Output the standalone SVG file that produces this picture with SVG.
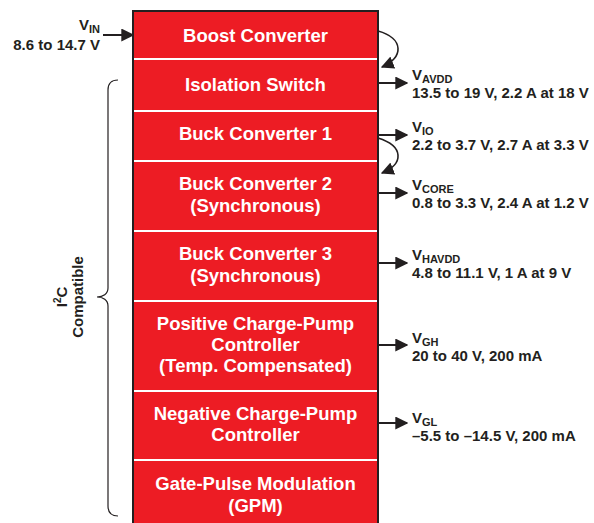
<svg xmlns="http://www.w3.org/2000/svg" width="594" height="523" viewBox="0 0 594 523">
<defs>
<marker id="ah2" viewBox="0 0 10 10" refX="9" refY="5" markerWidth="13" markerHeight="13" markerUnits="userSpaceOnUse" orient="auto"><path d="M0,0 L10,5 L0,10 Z" fill="#231f20"/></marker>
<style>
.blk{fill:#ed1c24;stroke:#231f20;stroke-width:2}
.sep{stroke:#ffffff;stroke-width:2}
.bt{font-family:"Liberation Sans",Arial,sans-serif;font-weight:bold;font-size:18.5px;fill:#ffffff;text-anchor:middle}
.lb{font-family:"Liberation Sans",Arial,sans-serif;font-weight:bold;font-size:15px;fill:#231f20}
.sub{font-size:11px}
.ar{stroke:#231f20;stroke-width:2;fill:none;marker-end:url(#ah2)}
.cv{stroke:#231f20;stroke-width:1.6;fill:none;marker-end:url(#ah2)}
</style>
</defs>
<rect x="0" y="0" width="594" height="523" fill="#ffffff"/>
<g id="block">
<rect class="blk" x="133" y="11" width="245" height="520"/>
<line class="sep" x1="134" y1="59" x2="377" y2="59"/>
<line class="sep" x1="134" y1="111" x2="377" y2="111"/>
<line class="sep" x1="134" y1="161" x2="377" y2="161"/>
<line class="sep" x1="134" y1="231" x2="377" y2="231"/>
<line class="sep" x1="134" y1="301" x2="377" y2="301"/>
<line class="sep" x1="134" y1="391" x2="377" y2="391"/>
<line class="sep" x1="134" y1="460" x2="377" y2="460"/>
</g>
<g id="boost"><text class="bt" x="255.5" y="42">Boost Converter</text></g>
<g id="isolation"><text class="bt" x="255.5" y="91">Isolation Switch</text></g>
<g id="buck1"><text class="bt" x="255.5" y="140">Buck Converter 1</text></g>
<g id="buck2"><text class="bt" x="255.5" y="190">Buck Converter 2</text><text class="bt" x="255.5" y="212">(Synchronous)</text></g>
<g id="buck3"><text class="bt" x="255.5" y="260">Buck Converter 3</text><text class="bt" x="255.5" y="282">(Synchronous)</text></g>
<g id="poscp"><text class="bt" x="255.5" y="330">Positive Charge-Pump</text><text class="bt" x="255.5" y="351">Controller</text><text class="bt" x="255.5" y="372">(Temp. Compensated)</text></g>
<g id="negcp"><text class="bt" x="255.5" y="420">Negative Charge-Pump</text><text class="bt" x="255.5" y="441">Controller</text></g>
<g id="gpm"><text class="bt" x="255.5" y="490">Gate-Pulse Modulation</text><text class="bt" x="255.5" y="512">(GPM)</text></g>

<g id="connectors">
<line class="ar" x1="103" y1="35" x2="133" y2="35"/>
<path class="cv" d="M378,31 C404,38 404,58 382,67"/>
<line class="ar" x1="378" y1="83" x2="407" y2="83"/>
<line class="ar" x1="378" y1="135" x2="407" y2="135"/>
<path class="cv" d="M378,138 C404,146 404,164 382,173"/>
<line class="ar" x1="378" y1="193" x2="407" y2="193"/>
<line class="ar" x1="378" y1="263" x2="407" y2="263"/>
<line class="ar" x1="378" y1="345" x2="407" y2="345"/>
<line class="ar" x1="378" y1="423" x2="407" y2="423"/>
</g>

<g id="vin"><text class="lb" x="100" y="30" text-anchor="end">V<tspan class="sub" dy="3">IN</tspan></text><text class="lb" x="100" y="50" text-anchor="end">8.6 to 14.7 V</text></g>
<g id="vavdd"><text class="lb" x="412" y="80">V<tspan class="sub" dy="3">AVDD</tspan></text><text class="lb" x="412" y="98">13.5 to 19 V, 2.2 A at 18 V</text></g>
<g id="vio"><text class="lb" x="412" y="132">V<tspan class="sub" dy="3">IO</tspan></text><text class="lb" x="412" y="150">2.2 to 3.7 V, 2.7 A at 3.3 V</text></g>
<g id="vcore"><text class="lb" x="412" y="190">V<tspan class="sub" dy="3">CORE</tspan></text><text class="lb" x="412" y="208">0.8 to 3.3 V, 2.4 A at 1.2 V</text></g>
<g id="vhavdd"><text class="lb" x="412" y="260">V<tspan class="sub" dy="3">HAVDD</tspan></text><text class="lb" x="412" y="278">4.8 to 11.1 V, 1 A at 9 V</text></g>
<g id="vgh"><text class="lb" x="412" y="343">V<tspan class="sub" dy="3">GH</tspan></text><text class="lb" x="412" y="361">20 to 40 V, 200 mA</text></g>
<g id="vgl"><text class="lb" x="412" y="423">V<tspan class="sub" dy="3">GL</tspan></text><text class="lb" x="412" y="441">–5.5 to –14.5 V, 200 mA</text></g>

<g id="i2c">
<path d="M118,80 C111,80 108,83 108,90 L108,288 C108,294 103,297 97,297 C103,297 108,300 108,306 L108,506 C108,513 111,516 118,516" fill="none" stroke="#231f20" stroke-width="1.2"/>
<text class="lb" transform="translate(67,297) rotate(-90)" text-anchor="middle">I<tspan font-size="10" dy="-6">2</tspan><tspan dy="6">C</tspan></text>
<text class="lb" transform="translate(83,297) rotate(-90)" text-anchor="middle">Compatible</text>
</g>
</svg>
